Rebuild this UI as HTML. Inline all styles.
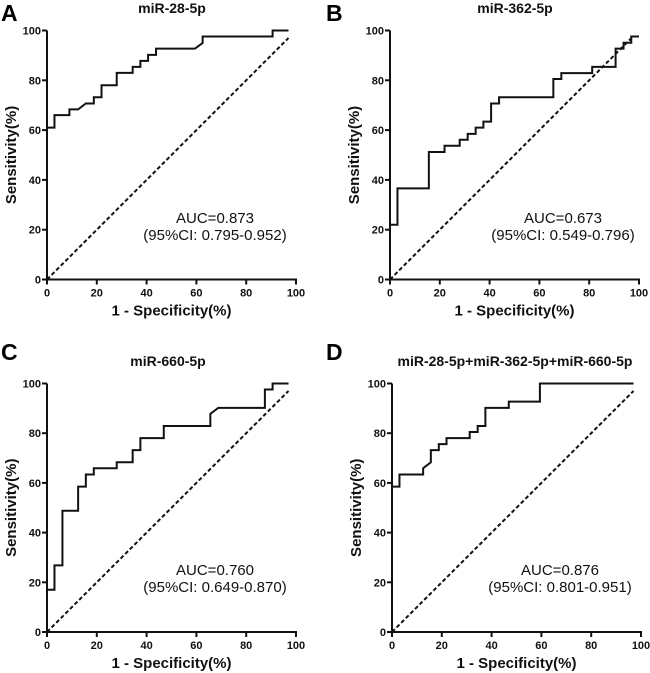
<!DOCTYPE html>
<html><head><meta charset="utf-8"><style>
html,body{margin:0;padding:0;background:#fff;}
svg{display:block;font-family:"Liberation Sans",Arial,sans-serif;}
.tick{font-size:11px;font-weight:bold;fill:#111;}
.ttl{font-size:14px;font-weight:bold;fill:#111;}
.axt{font-size:15px;font-weight:bold;fill:#111;}
.auc{font-size:15px;fill:#111;}
.let{font-size:23px;font-weight:bold;fill:#000;}
</style></head><body>
<svg id="fig" width="650" height="673" viewBox="0 0 650 673" xmlns="http://www.w3.org/2000/svg"></svg>
<script>
const xTicks = [0, 20, 40, 60, 80, 100];
const yTicks = [0, 20, 40, 60, 80, 100];
const diagonal = [[0, 0], [97, 97]];
const curveA = [[0,0],[0,61],[3,61],[3,66],[9,66],[9,68.3],[12.5,68.3],[15.6,70.7],[18.8,70.7],[18.8,73.2],[21.9,73.2],[21.9,78],[28,78],[28,83],[34.4,83],[34.4,85.4],[37.5,85.4],[37.5,87.8],[40.6,87.8],[40.6,90.2],[43.8,90.2],[43.8,92.7],[59.4,92.7],[62.5,95],[62.5,97.6],[90.6,97.6],[90.6,100],[97,100]];
const curveB = [[0,0],[0,22],[3,22],[3,36.6],[15.6,36.6],[15.6,51.2],[21.9,51.2],[21.9,53.7],[28,53.7],[28,56.1],[31.2,56.1],[31.2,58.5],[34.4,58.5],[34.4,61],[37.5,61],[37.5,63.4],[40.6,63.4],[40.6,70.7],[43.8,70.7],[43.8,73.2],[65.6,73.2],[65.6,80.5],[68.8,80.5],[68.8,82.9],[81.2,82.9],[81.2,85.4],[90.6,85.4],[90.6,92.7],[93.8,92.7],[93.8,95.1],[96.9,95.1],[96.9,97.6],[100,97.6]];
const curveC = [[0,0],[0,17],[3,17],[3,26.8],[6.2,26.8],[6.2,48.8],[12.5,48.8],[12.5,58.5],[15.6,58.5],[15.6,63.4],[18.8,63.4],[18.8,65.9],[28,65.9],[28,68.3],[34.4,68.3],[34.4,73.2],[37.5,73.2],[37.5,78],[46.9,78],[46.9,82.9],[65.6,82.9],[65.6,87.8],[68.8,90.2],[87.5,90.2],[87.5,97.6],[90.6,97.6],[90.6,100],[97,100]];
const curveD = [[0,0],[0,58.5],[3,58.5],[3,63.4],[12.5,63.4],[12.5,65.9],[15.6,68.3],[15.6,73.2],[18.8,73.2],[18.8,75.6],[21.9,75.6],[21.9,78],[31.2,78],[31.2,80.5],[34.4,80.5],[34.4,82.9],[37.5,82.9],[37.5,90.2],[46.9,90.2],[46.9,92.7],[59.4,92.7],[59.4,100],[97,100]];
const titles = ["miR-28-5p", "miR-362-5p", "miR-660-5p", "miR-28-5p+miR-362-5p+miR-660-5p"];
const aucLabels = ["AUC=0.873", "AUC=0.673", "AUC=0.760", "AUC=0.876"];
const ciLabels = ["(95%CI: 0.795-0.952)", "(95%CI: 0.549-0.796)", "(95%CI: 0.649-0.870)", "(95%CI: 0.801-0.951)"];
const letters = ["A", "B", "C", "D"];

const NS = "http://www.w3.org/2000/svg";
const svg = document.getElementById('fig');
function mk(tag, attrs, parent){
  const e = document.createElementNS(NS, tag);
  for (const k in attrs) e.setAttribute(k, attrs[k]);
  (parent || svg).appendChild(e);
  return e;
}
const panels = [
  {x0:47, x1:296, y0:279.5, y1:30.5, letterX:1, letterY:21, titleX:172, titleY:13, aucX:215, aucY:223, curve:curveA},
  {x0:390, x1:639, y0:279.5, y1:30.5, letterX:326, letterY:21, titleX:515, titleY:13, aucX:563, aucY:223, curve:curveB},
  {x0:47, x1:296, y0:632, y1:383.5, letterX:1, letterY:360, titleX:168, titleY:366, aucX:215, aucY:575, curve:curveC},
  {x0:392, x1:641, y0:632, y1:383.5, letterX:326, letterY:360, titleX:515, titleY:366, aucX:560, aucY:575, curve:curveD}
];
panels.forEach((p, i) => {
  const g = mk('g', {});
  
  
  const sx = v => p.x0 + (p.x1 - p.x0) * v / 100;
  const sy = v => p.y0 + (p.y1 - p.y0) * v / 100;

  const L = mk('text', {x:p.letterX, y:p.letterY, class:'let'}, g); L.textContent = letters[i];
  
  
  const T = mk('text', {x:p.titleX, y:p.titleY, class:'ttl', 'text-anchor':'middle'}, g); T.textContent = titles[i];
  
  

  const ya = mk('line', {x1:p.x0, y1:p.y0 + 1, x2:p.x0, y2:p.y1, stroke:'#111', 'stroke-width':2}, g);
  
  
  const xa = mk('line', {x1:p.x0 - 1, y1:p.y0, x2:p.x1 + 1, y2:p.y0, stroke:'#111', 'stroke-width':2}, g);
  
  
  yTicks.forEach(t => {
    mk('line', {x1:p.x0 - 5, y1:sy(t), x2:p.x0, y2:sy(t), stroke:'#111', 'stroke-width':2}, g);
    const tl = mk('text', {x:p.x0 - 6, y:sy(t) + 4, class:'tick', 'text-anchor':'end'}, g); tl.textContent = t;
    
    
  });
  xTicks.forEach(t => {
    mk('line', {x1:sx(t), y1:p.y0, x2:sx(t), y2:p.y0 + 5, stroke:'#111', 'stroke-width':2}, g);
    const tl = mk('text', {x:sx(t), y:p.y0 + 17, class:'tick', 'text-anchor':'middle'}, g); tl.textContent = t;
    
    
  });
  const xt = mk('text', {x:(p.x0 + p.x1) / 2, y:p.y0 + 36, class:'axt', 'text-anchor':'middle'}, g); xt.textContent = '1 - Specificity(%)';
  
  
  const ycx = p.x0 - 31, ycy = (p.y0 + p.y1) / 2;
  const yt = mk('text', {x:ycx, y:ycy, class:'axt', 'text-anchor':'middle', transform:`rotate(-90 ${ycx} ${ycy})`}, g); yt.textContent = 'Sensitivity(%)';
  
  

  const dg = mk('line', {x1:sx(diagonal[0][0]), y1:sy(diagonal[0][1]), x2:sx(diagonal[1][0]), y2:sy(diagonal[1][1]), stroke:'#111', 'stroke-width':2, 'stroke-dasharray':'4 2.5'}, g);
  
  

  const pts = p.curve.map(d => sx(d[0]).toFixed(2) + ',' + sy(d[1]).toFixed(2)).join(' ');
  const pl = mk('polyline', {points:pts, fill:'none', stroke:'#111', 'stroke-width':2, 'stroke-linejoin':'miter'}, g);
  
  

  const a = mk('text', {x:p.aucX, y:p.aucY, class:'auc', 'text-anchor':'middle'}, g); a.textContent = aucLabels[i];
  
  
  const c = mk('text', {x:p.aucX, y:p.aucY + 17, class:'auc', 'text-anchor':'middle'}, g); c.textContent = ciLabels[i];
  
  
});
</script>
</body></html>
